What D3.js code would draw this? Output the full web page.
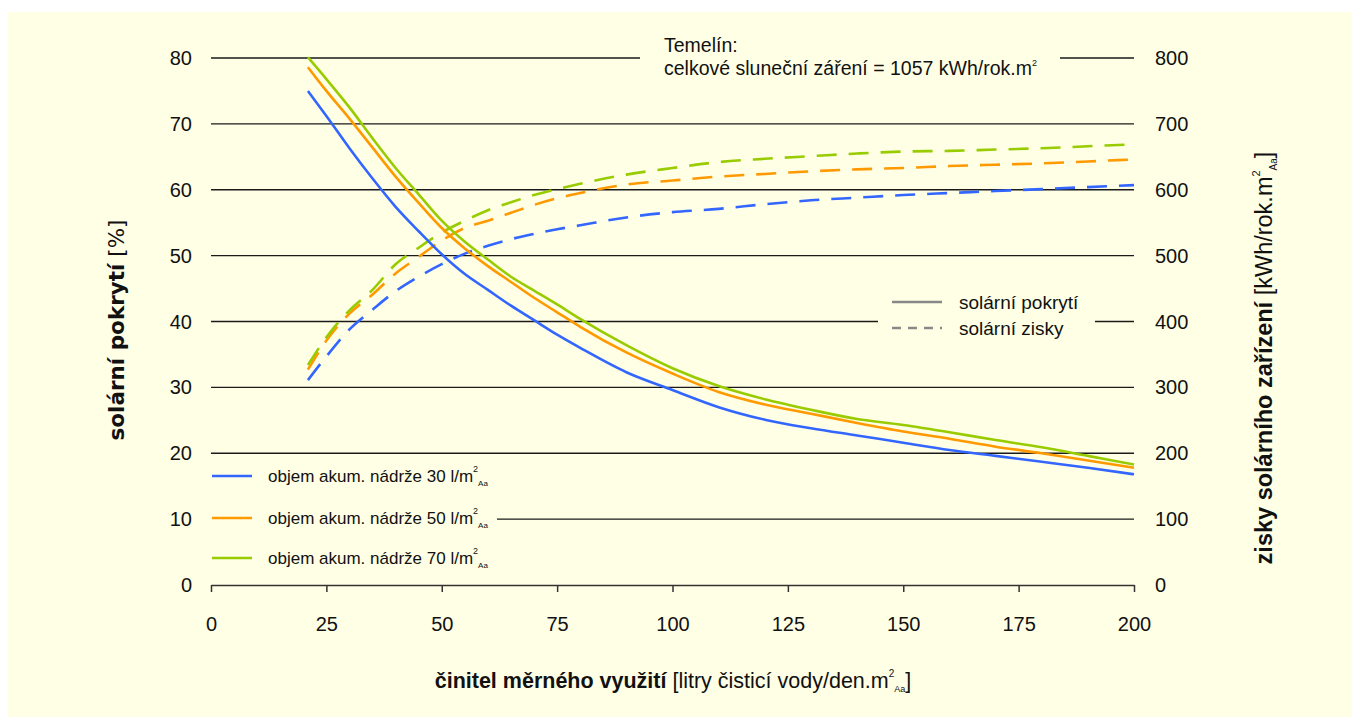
<!DOCTYPE html>
<html>
<head>
<meta charset="utf-8">
<script src="https://cdn.jsdelivr.net/npm/d3@7"></script>
<style>
  body { margin: 0; background: #fff; }
  text { font-family: "Liberation Sans", Arial, sans-serif; fill: #111; }
</style>
</head>
<body>
<svg width="1359" height="724"></svg>
<script>
// x values: činitel měrného využití
const xVals = [21, 25, 30, 35, 40, 45, 50, 55, 60, 65, 70, 75, 80, 90, 100, 110, 120, 130, 140, 150, 160, 170, 180, 190, 200];

// solární pokrytí [%]
const cover30 = [75.0, 71.2, 66.3, 61.7, 57.4, 53.7, 50.2, 47.2, 44.8, 42.4, 40.2, 38.0, 36.0, 32.3, 29.6, 27.0, 25.1, 23.8, 22.7, 21.6, 20.5, 19.6, 18.7, 17.8, 16.8];
const cover50 = [78.6, 75.0, 70.8, 66.4, 62.0, 58.0, 54.2, 51.1, 48.4, 46.0, 43.6, 41.4, 39.2, 35.3, 32.1, 29.3, 27.4, 26.0, 24.6, 23.3, 22.2, 21.0, 20.0, 18.9, 17.8];
const cover70 = [80.1, 76.8, 72.5, 67.8, 63.3, 59.3, 55.3, 52.1, 49.4, 46.8, 44.7, 42.6, 40.4, 36.4, 32.9, 30.2, 28.2, 26.6, 25.2, 24.3, 23.2, 22.0, 20.9, 19.6, 18.3];

// solární zisky [kWh/rok.m2]
const gain30 = [311, 347, 388, 418, 446, 468, 487, 503, 515, 525, 533, 540, 546, 558, 566, 571, 578, 584, 588, 592, 595, 598, 601, 604, 607];
const gain50 = [327, 371, 412, 441, 473, 498, 523, 542, 553, 565, 577, 587, 595, 608, 614, 620, 624, 628, 631, 633, 636, 638, 640, 643, 646];
const gain70 = [334, 376, 417, 448, 487, 512, 535, 553, 569, 581, 592, 601, 609, 623, 633, 642, 647, 651, 655, 658, 659, 661, 663, 666, 669];

const volumes = ["30", "50", "70"];
const colors = ["#3366ff", "#ff9900", "#99cc00"];
const xTicks = [0, 25, 50, 75, 100, 125, 150, 175, 200];
const leftTicks = [0, 10, 20, 30, 40, 50, 60, 70, 80];
const rightTicks = [0, 100, 200, 300, 400, 500, 600, 700, 800];

const svg = d3.select("svg");
const bg = "#ffffe6";

svg.append("rect").attr("x", 8).attr("y", 12).attr("width", 1344).attr("height", 705).attr("fill", bg);

const x = d3.scaleLinear().domain([0, 200]).range([211, 1134]);
const yL = d3.scaleLinear().domain([0, 80]).range([585, 58]);
const yR = d3.scaleLinear().domain([0, 800]).range([585, 58]);

// gridlines
svg.append("g").selectAll("line").data(leftTicks.slice(1)).join("line")
  .attr("x1", x(0)).attr("x2", x(200))
  .attr("y1", d => yL(d)).attr("y2", d => yL(d))
  .attr("stroke", "#1a1a1a").attr("stroke-width", 1.3);

// bottom axis
const xAxis = svg.append("g").attr("transform", `translate(0,${yL(0)})`)
  .call(d3.axisBottom(x).tickValues(xTicks).tickSize(7).tickPadding(25).tickSizeOuter(0));
xAxis.select(".domain").attr("stroke", "#333").attr("stroke-width", 1.5);
xAxis.selectAll(".tick line").attr("stroke", "#333").attr("stroke-width", 1.5);
xAxis.selectAll("text").attr("font-size", 20).attr("font-family", "Liberation Sans").attr("fill", "#111");

// left labels
svg.append("g").selectAll("text").data(leftTicks).join("text")
  .attr("x", 192).attr("y", d => yL(d) + 7)
  .attr("text-anchor", "end").attr("font-size", 20)
  .text(d => d);

// right labels
svg.append("g").selectAll("text").data(rightTicks).join("text")
  .attr("x", 1155).attr("y", d => yR(d) + 7)
  .attr("font-size", 20)
  .text(d => d);

// boxes behind annotations (they break the gridlines)
svg.append("rect").attr("x", 640).attr("y", 34).attr("width", 420).attr("height", 52).attr("fill", bg);
svg.append("rect").attr("x", 878).attr("y", 290).attr("width", 217).attr("height", 52).attr("fill", bg);
svg.append("rect").attr("x", 208).attr("y", 462).attr("width", 289).attr("height", 112).attr("fill", bg);

const coverSeries = [cover30, cover50, cover70];
const gainSeries = [gain30, gain50, gain70];

const lineL = d3.line().x((d, i) => x(xVals[i])).y(d => yL(d)).curve(d3.curveMonotoneX);
const lineR = d3.line().x((d, i) => x(xVals[i])).y(d => yR(d)).curve(d3.curveMonotoneX);

svg.append("g").selectAll("path").data(gainSeries).join("path")
  .attr("d", lineR).attr("fill", "none")
  .attr("stroke", (d, i) => colors[i]).attr("stroke-width", 2.6)
  .attr("stroke-dasharray", "20,12");

svg.append("g").selectAll("path").data(coverSeries).join("path")
  .attr("d", lineL).attr("fill", "none")
  .attr("stroke", (d, i) => colors[i]).attr("stroke-width", 2.6);

// left legend
const legY = [476, 518, 558];
const leg = svg.append("g").selectAll("g").data(volumes).join("g")
  .attr("transform", (d, i) => `translate(0,${legY[i]})`);
leg.append("line").attr("x1", 212).attr("x2", 252).attr("y1", 0).attr("y2", 0)
  .attr("stroke", (d, i) => colors[i]).attr("stroke-width", 2.6);
const lt = leg.append("text").attr("x", 268).attr("y", 6).attr("font-size", 17);
lt.append("tspan").text(d => `objem akum. nádrže ${d} l/m`);
lt.append("tspan").attr("font-size", 9).attr("dy", -10).text("2");
lt.append("tspan").attr("font-size", 8).attr("dy", 14).text("Aa");

// right legend
svg.append("line").attr("x1", 892).attr("x2", 942).attr("y1", 302).attr("y2", 302)
  .attr("stroke", "#888").attr("stroke-width", 2.6);
svg.append("line").attr("x1", 892).attr("x2", 942).attr("y1", 328).attr("y2", 328)
  .attr("stroke", "#888").attr("stroke-width", 2.6).attr("stroke-dasharray", "9,7");
svg.append("text").attr("x", 959).attr("y", 309).attr("font-size", 19).text("solární pokrytí");
svg.append("text").attr("x", 959).attr("y", 335).attr("font-size", 19).text("solární zisky");

// top note
svg.append("text").attr("x", 664).attr("y", 52).attr("font-size", 19.5).text("Temelín:");
const note = svg.append("text").attr("x", 664).attr("y", 75).attr("font-size", 19.5);
note.append("tspan").text("celkové sluneční záření = 1057 kWh/rok.m");
note.append("tspan").attr("font-size", 9).attr("dy", -9).text("2");

// axis titles
const xt = svg.append("text").attr("x", 673).attr("y", 688).attr("text-anchor", "middle").attr("font-size", 21.5);
xt.append("tspan").attr("font-weight", "bold").text("činitel měrného využití");
xt.append("tspan").text(" [litry čisticí vody/den.m");
xt.append("tspan").attr("font-size", 10).attr("dy", -11).text("2");
xt.append("tspan").attr("font-size", 9).attr("dy", 15).text("Aa");
xt.append("tspan").attr("dy", -4).text("]");

const lt2 = svg.append("text").attr("transform", "translate(124,330) rotate(-90)")
  .attr("text-anchor", "middle").attr("font-size", 21.5)
  .style("font-family", "'DejaVu Sans', Verdana, sans-serif");
lt2.append("tspan").attr("font-weight", "bold").text("solární pokrytí");
lt2.append("tspan").text(" [%]");

const rt = svg.append("text").attr("transform", "translate(1272,358) rotate(-90)")
  .attr("text-anchor", "middle").attr("font-size", 23.5);
rt.append("tspan").attr("font-weight", "bold").text("zisky solárního zařízení");
rt.append("tspan").text(" [kWh/rok.m");
rt.append("tspan").attr("font-size", 11).attr("dy", -12).text("2");
rt.append("tspan").attr("font-size", 10).attr("dy", 17).text("Aa");
rt.append("tspan").attr("dy", -5).text("]");
</script>
</body>
</html>
